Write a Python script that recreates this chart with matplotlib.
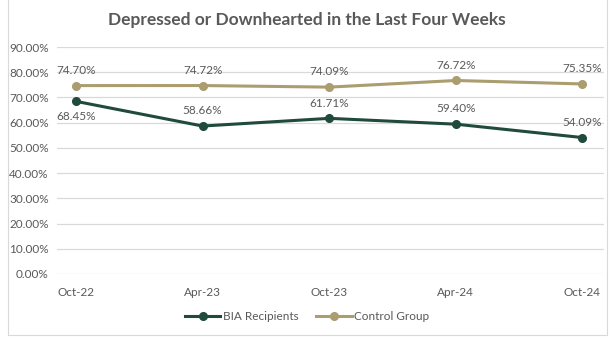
import matplotlib.pyplot as plt
from matplotlib.patches import Rectangle

# Data
periods = ["Oct-22", "Apr-23", "Oct-23", "Apr-24", "Oct-24"]
bia = [68.45, 58.66, 61.71, 59.40, 54.09]
control = [74.70, 74.72, 74.09, 76.72, 75.35]

GREEN = "#1f4a3c"
TAN = "#ab9d70"
TXT = "#595959"

plt.rcParams['font.family'] = ['Lato', 'DejaVu Sans']

fig = plt.figure(figsize=(6.14, 3.45), dpi=100)
ax = fig.add_axes([57 / 614, 1 - 274 / 345, (604 - 57) / 614, (274 - 47) / 345])

x = list(range(len(periods)))
ax.plot(x, bia, color=GREEN, lw=2.2, marker='o', ms=5.5, label="BIA Recipients", zorder=3)
ax.plot(x, control, color=TAN, lw=2.2, marker='o', ms=5.5, label="Control Group", zorder=3)

for i, v in enumerate(control):
    ax.annotate(f"{v:.2f}%", (i, v), xytext=(0, 7), textcoords='offset points',
                ha='center', va='bottom', fontsize=8.5, color=TXT)
for i, v in enumerate(bia):
    if i == 0:
        ax.annotate(f"{v:.2f}%", (i, v), xytext=(0, -7), textcoords='offset points',
                    ha='center', va='top', fontsize=8.5, color=TXT)
    else:
        ax.annotate(f"{v:.2f}%", (i, v), xytext=(0, 7), textcoords='offset points',
                    ha='center', va='bottom', fontsize=8.5, color=TXT)

ax.set_ylim(0, 90)
ax.set_xlim(-0.15, 4.17)
ax.set_yticks(range(0, 91, 10))
ax.set_yticklabels([f"{t:.2f}%" for t in range(0, 91, 10)])
ax.set_xticks(x)
ax.set_xticklabels(periods)
ax.tick_params(length=0, labelsize=8.5, labelcolor=TXT, pad=6)
ax.tick_params(axis='x', pad=9)
ax.grid(axis='y', color="#d9d9d9", lw=0.9)
ax.set_axisbelow(True)
for s in ax.spines.values():
    s.set_visible(False)

fig.text(307 / 614, 1 - 20 / 345, "Depressed or Downhearted in the Last Four Weeks",
         ha='center', va='center', fontsize=12.5, fontweight='bold', color=TXT)

fig.legend(loc='center', bbox_to_anchor=(307 / 614, 1 - 317 / 345), ncol=2, frameon=False,
           fontsize=8.5, labelcolor=TXT, handlelength=3, columnspacing=1.5, handletextpad=0.2)

fig.patches.append(Rectangle((8 / 614, 10 / 345), (607 - 8) / 614, 1.2, transform=fig.transFigure,
                             fill=False, edgecolor="#d9d9d9", lw=0.8))

fig.savefig("out.png", dpi=100)
